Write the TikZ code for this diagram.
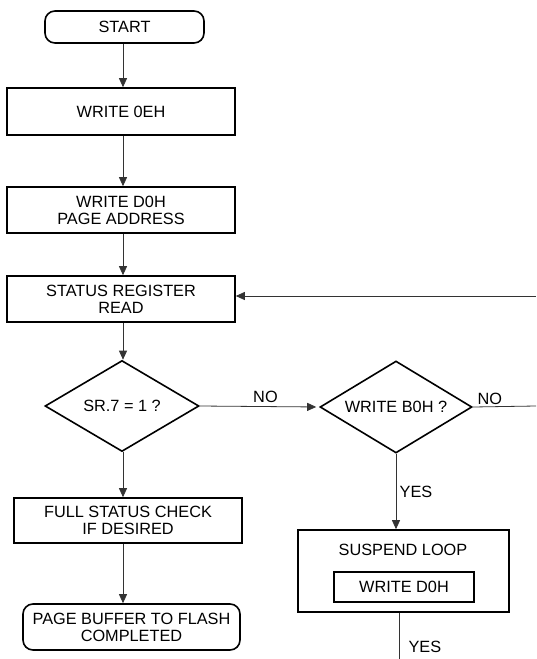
\documentclass[tikz,border=0pt]{standalone}
\usepackage{fontspec}
\setmainfont{Liberation Sans}
\usetikzlibrary{shapes.geometric,arrows.meta}

\begin{document}
\begin{tikzpicture}[x=1pt,y=-1pt,
  font=\fontsize{16.3}{16.8}\selectfont,
  box/.style={draw,line width=1.6pt,inner sep=0pt,align=center},
  term/.style={box,rounded corners=10pt},
  test/.style={draw,line width=1.6pt,diamond,shape aspect=1.65,inner sep=0pt},
  flow/.style={line width=0.8pt,black!80,-{Triangle[length=9pt,width=8pt]}},
  plain/.style={line width=0.8pt,black!80}]
\useasboundingbox (0,0) rectangle (536,659);
% left column
\node[term,minimum width=159pt,minimum height=32pt] (start) at (124.5,27) {START};
\node[box,minimum width=228pt,minimum height=47pt] (w0e) at (121,111.5) {WRITE 0EH};
\node[box,minimum width=228pt,minimum height=46pt] (wd0) at (121,210) {WRITE D0H\\PAGE ADDRESS};
\node[box,minimum width=228pt,minimum height=46pt] (srr) at (121,299) {STATUS REGISTER\\READ};
\node[test,minimum width=154pt,minimum height=91pt] (sr7) at (122,406) {SR.7 = 1 ?};
\node[box,minimum width=228pt,minimum height=45pt] (fsc) at (128,520.5) {FULL STATUS CHECK\\IF DESIRED};
\node[term,minimum width=217pt,minimum height=46pt] (pbf) at (131.5,627) {PAGE BUFFER TO FLASH\\COMPLETED};
% right column
\node[test,minimum width=152pt,minimum height=92pt] (wb0) at (396,407) {WRITE B0H ?};
\node[box,minimum width=211pt,minimum height=82pt] (sus) at (403.5,571) {};
\node (susl) at (403,550) {SUSPEND LOOP};
\node[box,minimum width=140pt,minimum height=30pt] (swd) at (404,587) {WRITE D0H};
\coordinate (fb) at (536,296);
\coordinate (nr) at (536,406);
\coordinate (bot) at (399,659);

\draw[flow] (start.south -| 123,0) -- (w0e.north -| 123,0);
\draw[flow] (w0e.south -| 123,0) -- (wd0.north -| 123,0);
\draw[flow] (wd0.south -| 123,0) -- (srr.north -| 123,0);
\draw[flow] (srr.south -| 123,0) -- (sr7.north -| 123,0);
\draw[flow] (sr7.south -| 123,0) -- (fsc.north -| 123,0);
\draw[flow] (fsc.south -| 123,0) -- (pbf.north -| 123,0);
\draw[flow] (fb) -- (fb -| srr.east);
\draw[flow,shorten >=3pt] (sr7.east) -- node[above,black,pos=0.55] {NO} (wb0.west);
\draw[plain] (wb0.east) -- (nr);
\node[anchor=south west] (nol) at (474,408) {NO};
\draw[flow] (wb0.south) -- node[right,black] {YES} (wb0.south |- sus.north);
\draw[plain] (sus.south -| bot) -- (bot);
\node[anchor=west] (yesl) at (405,647) {YES};
\end{tikzpicture}
\end{document}
